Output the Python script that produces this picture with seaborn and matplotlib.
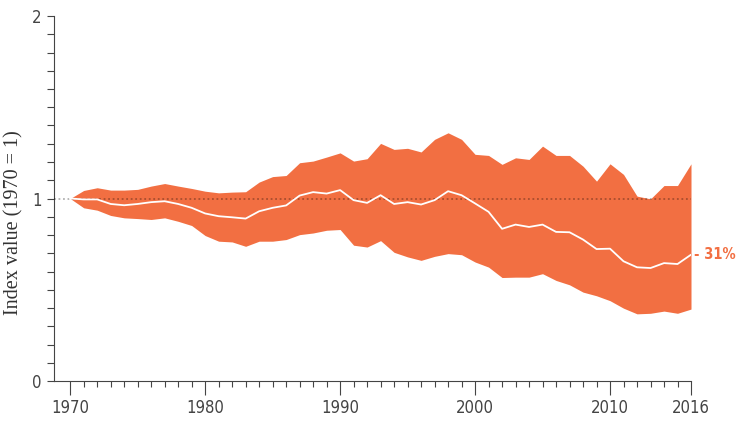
import numpy as np
import pandas as pd
import matplotlib.pyplot as plt
import seaborn as sns

# Index values (1970 = 1)
years = list(range(1970, 2017))
mean_index = [1.000, 0.995, 0.995, 0.970, 0.963, 0.970, 0.980, 0.985, 0.970, 0.949,
              0.918, 0.903, 0.897, 0.890, 0.930, 0.949, 0.962, 1.016, 1.035, 1.027,
              1.046, 0.991, 0.976, 1.018, 0.970, 0.980, 0.967, 0.991, 1.040, 1.018,
              0.973, 0.927, 0.834, 0.857, 0.844, 0.857, 0.817, 0.815, 0.775, 0.723,
              0.725, 0.656, 0.623, 0.619, 0.646, 0.641, 0.692]
upper_index = [1.000, 1.044, 1.059, 1.046, 1.046, 1.050, 1.068, 1.082, 1.068, 1.055,
               1.040, 1.031, 1.035, 1.037, 1.090, 1.120, 1.126, 1.196, 1.205, 1.227,
               1.250, 1.205, 1.218, 1.302, 1.269, 1.275, 1.255, 1.324, 1.360, 1.324,
               1.242, 1.236, 1.187, 1.223, 1.214, 1.287, 1.236, 1.236, 1.177, 1.095,
               1.190, 1.132, 1.013, 0.998, 1.071, 1.071, 1.190]
lower_index = [1.000, 0.949, 0.936, 0.907, 0.894, 0.890, 0.885, 0.894, 0.875, 0.852,
               0.797, 0.766, 0.762, 0.738, 0.766, 0.766, 0.775, 0.802, 0.811, 0.826,
               0.830, 0.744, 0.734, 0.769, 0.705, 0.680, 0.661, 0.683, 0.698, 0.692,
               0.652, 0.624, 0.567, 0.569, 0.569, 0.588, 0.551, 0.527, 0.487, 0.467,
               0.440, 0.399, 0.368, 0.371, 0.383, 0.371, 0.394]
end_label = "- 31%"

df = pd.DataFrame({'year': years, 'mean': mean_index,
                   'upper': upper_index, 'lower': lower_index})

orange = '#F26F42'
grey = '#444444'

sns.set_style("ticks")
plt.rcParams['font.family'] = ['DejaVu Sans']
plt.rcParams['font.stretch'] = 'condensed'

fig = plt.figure(figsize=(7.37, 4.22), dpi=100)
ax = fig.add_axes([54 / 737, 41 / 422, 637 / 737, 365 / 422])

# Confidence band and index line
ax.fill_between(df['year'], df['lower'], df['upper'], color=orange, lw=0, zorder=2)
ax.axhline(1, color='black', alpha=0.3, lw=1.3, ls=(0, (1, 1.5)), zorder=3)
sns.lineplot(data=df, x='year', y='mean', color='white', lw=1.3, ax=ax, zorder=4)

ax.text(2016.2, df['mean'].iloc[-1], end_label, color=orange, fontsize=10.5,
        fontweight='bold', va='center', ha='left', clip_on=False)

# Axes
ax.set_xlim(1968.8, 2016)
ax.set_ylim(0, 2)
ax.set_xticks([1970, 1980, 1990, 2000, 2010, 2016])
ax.set_xticks(years, minor=True)
ax.set_yticks([0, 1, 2])
ax.set_yticks(np.arange(0, 2.01, 0.1), minor=True)
ax.tick_params(axis='x', which='major', length=10, width=0.8, color=grey,
               labelsize=12, labelcolor=grey, pad=3)
ax.tick_params(axis='x', which='minor', length=4.5, width=0.8, color=grey)
ax.tick_params(axis='y', which='both', length=5, width=0.8, color=grey,
               labelsize=12, labelcolor=grey, pad=4)
sns.despine(ax=ax)
for side in ['left', 'bottom']:
    ax.spines[side].set_color(grey)
    ax.spines[side].set_linewidth(0.8)

ax.set_xlabel('')
ax.set_ylabel('Index value (1970 = 1)', fontsize=14.5, color='#333333',
              family=['Liberation Serif', 'DejaVu Serif'])
ax.yaxis.set_label_coords(-0.048, 0.435)

plt.savefig('out.png', dpi=100)
plt.close()
